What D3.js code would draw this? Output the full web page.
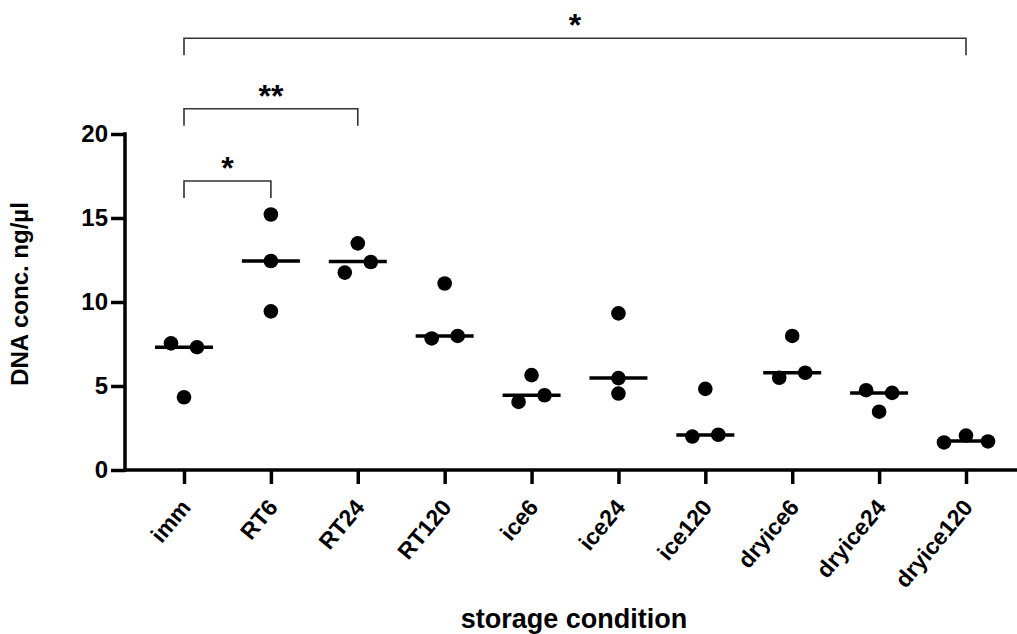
<!DOCTYPE html>
<html>
<head>
<meta charset="utf-8">
<script src="https://cdn.jsdelivr.net/npm/d3@7"></script>
<style>
  body { margin: 0; background: #fff; }
  text { font-family: "Liberation Sans", Arial, sans-serif; font-weight: bold; }
</style>
</head>
<body>
<div id="chart"></div>
<script>
(function () {

  // Categories (storage conditions)
  const conditions = ["imm", "RT6", "RT24", "RT120", "ice6", "ice24", "ice120", "dryice6", "dryice24", "dryice120"]

  // Replicate values per condition, in plotting order
  const imm = [7.54, 7.31, 4.33]
  const rt6 = [15.21, 12.44, 9.44]
  const rt24 = [11.75, 12.38, 13.49]
  const rt120 = [7.83, 7.98, 11.10]
  const ice6 = [4.05, 4.45, 5.65]
  const ice24 = [9.32, 5.47, 4.55]
  const ice120 = [1.99, 2.10, 4.83]
  const dryice6 = [5.49, 5.79, 7.98]
  const dryice24 = [4.75, 4.59, 3.47]
  const dryice120 = [1.64, 2.05, 1.70]

  // Medians drawn as horizontal bars
  const medians = [7.31, 12.44, 12.41, 7.98, 4.45, 5.47, 2.08, 5.79, 4.59, 1.72]

  const yTicks = [0, 5, 10, 15, 20]

  // Significance brackets
  const comparisons = [
    { from: "imm", to: "RT6", label: "*", level: 17.2 },
    { from: "imm", to: "RT24", label: "**", level: 21.5 },
    { from: "imm", to: "dryice120", label: "*", level: 25.7 }
  ]

  const series = [imm, rt6, rt24, rt120, ice6, ice24, ice120, dryice6, dryice24, dryice120]

  const svg = d3.select("#chart").append("svg")
      .attr("width", 1017)
      .attr("height", 634)

  const xScale = d3.scalePoint()
    .domain(conditions)
    .range([184, 966])

  const yScale = d3.scaleLinear()
    .domain([0, 20])
    .range([470, 134])

  const axisX0 = 125
  const axisX1 = 1017
  const r = 7.3

  // y axis
  const yAxis = svg.append("g")
    .attr("transform", "translate(" + axisX0 + ",0)")
    .call(d3.axisLeft(yScale).tickValues(yTicks).tickSize(14).tickPadding(3))
  yAxis.select(".domain").remove()
  yAxis.selectAll(".tick line").attr("stroke", "#000").attr("stroke-width", 3.5)
  yAxis.selectAll(".tick text").attr("font-size", 24).attr("fill", "#000")
    .attr("font-family", "'Liberation Sans', Arial, sans-serif").attr("font-weight", "bold")
  yAxis.append("line")
    .attr("x1", 0).attr("x2", 0)
    .attr("y1", yScale(0) + 1.75).attr("y2", yScale(20) - 1.75)
    .attr("stroke", "#000").attr("stroke-width", 3.5)

  // x axis
  const xAxis = svg.append("g")
    .attr("transform", "translate(0," + yScale(0) + ")")
    .call(d3.axisBottom(xScale).tickSize(14).tickFormat(""))
  xAxis.select(".domain").remove()
  xAxis.selectAll(".tick line").attr("stroke", "#000").attr("stroke-width", 3.5)
  xAxis.append("line")
    .attr("x1", axisX0 - 1.75).attr("x2", axisX1)
    .attr("stroke", "#000").attr("stroke-width", 3.5)

  svg.append("g").selectAll("text")
    .data(conditions)
    .join("text")
      .attr("transform", d => "translate(" + (xScale(d) + 8) + "," + 508 + ") rotate(-50)")
      .attr("text-anchor", "end")
      .attr("font-size", 23)
      .text(d => d)

  // axis titles
  svg.append("text")
    .attr("transform", "translate(28,294) rotate(-90)")
    .attr("text-anchor", "middle")
    .attr("font-size", 24)
    .text("DNA conc. ng/µl")

  svg.append("text")
    .attr("x", 574)
    .attr("y", 628)
    .attr("text-anchor", "middle")
    .attr("font-size", 27)
    .text("storage condition")

  // spread overlapping points horizontally
  const points = []
  series.forEach((vals, i) => {
    const cat = conditions[i]
    const sorted = vals.map((v, k) => ({ v, k })).sort((a, b) => a.v - b.v)
    const clusters = []
    sorted.forEach(p => {
      const last = clusters[clusters.length - 1]
      if (last && Math.abs(yScale(last[last.length - 1].v) - yScale(p.v)) < 2 * r) last.push(p)
      else clusters.push([p])
    })
    clusters.forEach(c => {
      c.sort((a, b) => a.k - b.k)
      const step = c.length === 2 ? 26 : 22
      c.forEach((p, j) => {
        points.push({ cat, value: p.v, dx: (j - (c.length - 1) / 2) * step })
      })
    })
  })

  svg.append("g").selectAll("circle")
    .data(points)
    .join("circle")
      .attr("cx", d => xScale(d.cat) + d.dx)
      .attr("cy", d => yScale(d.value))
      .attr("r", r)
      .attr("fill", "#000")

  svg.append("g").selectAll("line")
    .data(medians)
    .join("line")
      .attr("x1", (d, i) => xScale(conditions[i]) - 29)
      .attr("x2", (d, i) => xScale(conditions[i]) + 29)
      .attr("y1", d => yScale(d))
      .attr("y2", d => yScale(d))
      .attr("stroke", "#000")
      .attr("stroke-width", 3.5)

  // brackets
  const br = svg.append("g").selectAll("g")
    .data(comparisons)
    .join("g")
  br.append("path")
    .attr("d", d => {
      const x1 = xScale(d.from), x2 = xScale(d.to), y = yScale(d.level)
      return "M" + x1 + "," + (y + 17) + "V" + y + "H" + x2 + "V" + (y + 17)
    })
    .attr("fill", "none")
    .attr("stroke", "#333")
    .attr("stroke-width", 1.6)
  br.append("text")
    .attr("x", d => (xScale(d.from) + xScale(d.to)) / 2)
    .attr("y", d => yScale(d.level) - 2)
    .attr("text-anchor", "middle")
    .attr("font-size", 32)
    .text(d => d.label)

})();
</script>
</body>
</html>
